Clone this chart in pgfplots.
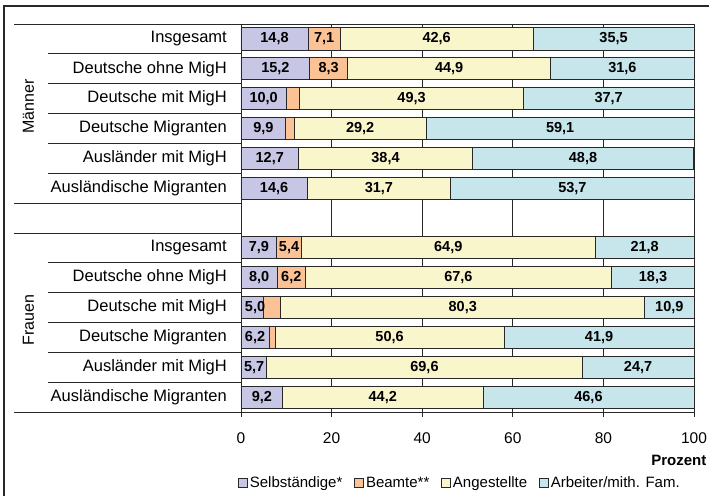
\documentclass[border=0pt]{standalone}
\usepackage{fontspec}
\setmainfont{Liberation Sans}
\usepackage{pgfplots}
\usepackage{pgfplotstable}
\pgfplotsset{compat=1.18}
\definecolor{cS}{RGB}{199,199,229}
\definecolor{cB}{RGB}{251,194,150}
\definecolor{cA}{RGB}{250,246,204}
\definecolor{cR}{RGB}{198,230,236}
\definecolor{edge}{RGB}{40,40,40}

\pgfplotstableread{
y S B A R
0 14.8 7.1 42.6 35.5
1 15.2 8.3 44.9 31.6
2 10.0 3.0 49.3 37.7
3 9.9 1.8 29.2 59.1
4 12.7 0 38.4 48.8
5 14.6 0 31.7 53.7
7 7.9 5.4 64.9 21.8
8 8.0 6.2 67.6 18.3
9 5.0 3.8 80.3 10.9
10 6.2 1.3 50.6 41.9
11 5.7 0 69.6 24.7
12 9.2 0 44.2 46.6
}\data

\pgfplotstableread{
x y l
7.4 0 14,8
18.35 0 7,1
43.2 0 42,6
82.25 0 35,5
7.6 1 15,2
19.35 1 8,3
45.95 1 44,9
84.2 1 31,6
5.0 2 10,0
37.65 2 49,3
81.15 2 37,7
4.95 3 9,9
26.3 3 29,2
70.45 3 59,1
6.35 4 12,7
31.9 4 38,4
75.5 4 48,8
7.3 5 14,6
30.45 5 31,7
73.15 5 53,7
3.95 7 7,9
10.6 7 5,4
45.75 7 64,9
89.1 7 21,8
4.0 8 8,0
11.1 8 6,2
48.0 8 67,6
90.95 8 18,3
3.1 9 5,0
48.95 9 80,3
94.55 9 10,9
3.1 10 6,2
32.8 10 50,6
79.05 10 41,9
2.9 11 5,7
40.5 11 69,6
87.65 11 24,7
4.6 12 9,2
31.3 12 44,2
76.7 12 46,6
}\labels

\begin{document}
\begin{tikzpicture}
\path[use as bounding box] (0,0) rectangle (709pt,496pt);
\draw[line width=1.6pt, edge] (4pt,0) -- (4pt,490pt) -- (709pt,490pt);
\begin{axis}[
  at={(241pt,84pt)}, anchor=south west,
  scale only axis, width=453pt, height=388pt,
  xbar stacked, bar width=0.74,
  xmin=0, xmax=100, ymin=-0.5, ymax=12.5, y dir=reverse,
  xtick={0,20,40,60,80,100}, xticklabels={0,20,40,60,80,100},
  xtick pos=bottom, xtick align=outside, major tick length=5pt,
  ytick={0,1,2,3,4,5,7,8,9,10,11,12},
  yticklabels={Insgesamt,Deutsche ohne MigH,Deutsche mit MigH,Deutsche Migranten,Ausländer mit MigH,Ausländische Migranten,Insgesamt,Deutsche ohne MigH,Deutsche mit MigH,Deutsche Migranten,Ausländer mit MigH,Ausländische Migranten},
  ytick style={draw=none},
  yticklabel style={anchor=east, inner sep=0pt, xshift=-14pt, font=\fontsize{16.5}{18}\selectfont},
  xticklabel style={anchor=north, inner sep=0pt, yshift=-15pt, font=\fontsize{15.5}{18}\selectfont},
  xmajorgrids, grid style={edge, line width=0.8pt},
  axis line style={edge, line width=0.8pt},
  every tick/.style={edge, line width=0.8pt},
  xlabel={Prozent},
  xlabel style={at={(axis description cs:1.0276,-0.126)}, anchor=east, inner sep=0pt, font=\bfseries\fontsize{15}{18}\selectfont},
  legend columns=4,
  legend style={draw=none, fill=none, at={(axis description cs:0.4834,-0.183)}, anchor=center,
    font=\fontsize{15}{17}\selectfont, /tikz/every even column/.append style={column sep=10pt}},
  legend image code/.code={\draw[#1, draw=edge, line width=0.6pt] (0pt,-4.5pt) rectangle (9pt,4.5pt);},
  clip=false,
]
\addplot[fill=cS, draw=edge, line width=0.8pt] table[x=S, y=y] {\data};
\addlegendentry{Selbständige*}
\addplot[fill=cB, draw=edge, line width=0.8pt] table[x=B, y=y] {\data};
\addlegendentry{Beamte**}
\addplot[fill=cA, draw=edge, line width=0.8pt] table[x=A, y=y] {\data};
\addlegendentry{Angestellte}
\addplot[fill=cR, draw=edge, line width=0.8pt] table[x=R, y=y] {\data};
\addlegendentry{Arbeiter/mith. Fam.}
\pgfplotsinvokeforeach{0.5,1.5,2.5,3.5,4.5,7.5,8.5,9.5,10.5,11.5}{
  \draw[edge, line width=0.8pt] ([xshift=-193pt]axis cs:0,#1) -- (axis cs:0,#1);
}
\pgfplotsinvokeforeach{-0.5,5.5,6.5,12.5}{
  \draw[edge, line width=0.8pt] ([xshift=-227pt]axis cs:0,#1) -- (axis cs:0,#1);
}
\node[rotate=90, font=\fontsize{16}{18}\selectfont] at ([xshift=-212.5pt]axis cs:0,2.26) {Männer};
\node[rotate=90, font=\fontsize{16}{18}\selectfont] at ([xshift=-212.5pt]axis cs:0,9.42) {Frauen};
\end{axis}
\begin{axis}[
  at={(241pt,84pt)}, anchor=south west,
  scale only axis, width=453pt, height=388pt,
  xmin=0, xmax=100, ymin=-0.5, ymax=12.5, y dir=reverse,
  hide axis, clip=false,
]
\addplot[draw=none, mark=none, nodes near coords, point meta=explicit symbolic,
  nodes near coords style={anchor=center, inner sep=0pt, font=\bfseries\fontsize{14.5}{16}\selectfont}]
  table[x=x, y=y, meta=l] {\labels};
\end{axis}
\end{tikzpicture}
\end{document}
